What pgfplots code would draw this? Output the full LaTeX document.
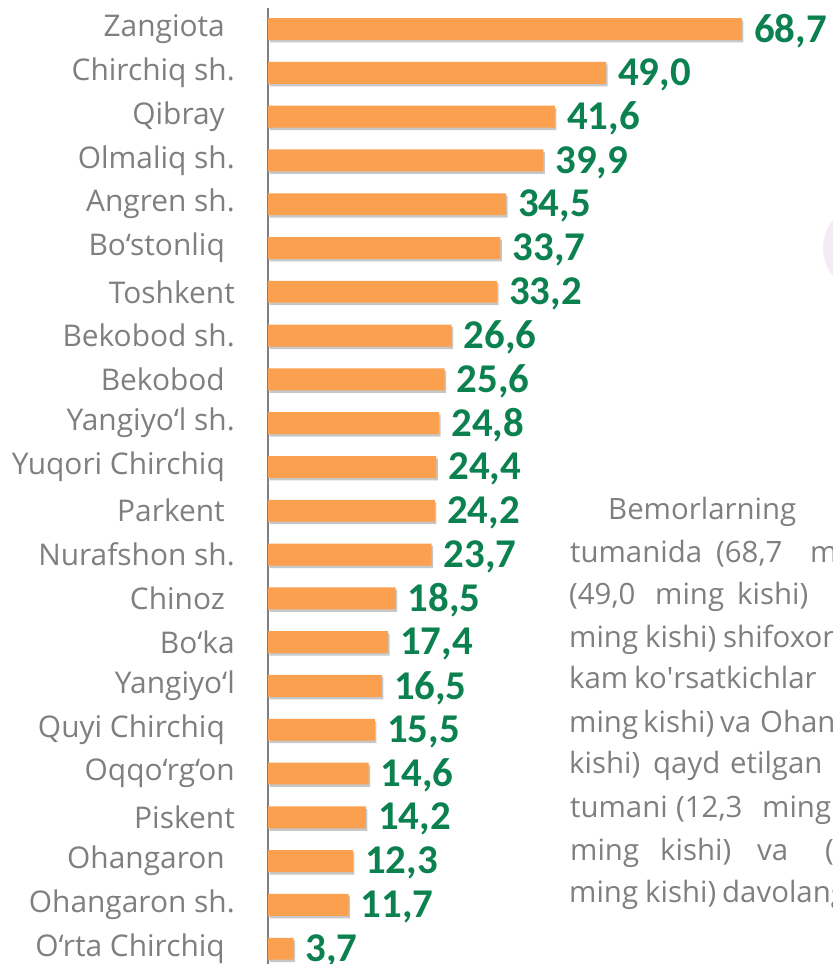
\documentclass[border=0pt]{standalone}
\usepackage{pgfplots}
\pgfplotsset{compat=1.18}
\usepackage{pgfplotstable}
\usetikzlibrary{shadows}
\usepackage{fontspec}
\setmainfont{Open Sans}
\newfontfamily\valfont{Carlito}
\definecolor{barorange}{HTML}{FBA04E}
\definecolor{valgreen}{HTML}{0B8150}
\definecolor{txtgray}{HTML}{7F7F7F}
\pgfplotstableread{
y v
0 68.7
1 49.0
2 41.6
3 39.9
4 34.5
5 33.7
6 33.2
7 26.6
8 25.6
9 24.8
10 24.4
11 24.2
12 23.7
13 18.5
14 17.4
15 16.5
16 15.5
17 14.6
18 14.2
19 12.3
20 11.7
21 3.7
}\data
\newcommand{\tsp}{\kern10bp}
\begin{document}
\begin{tikzpicture}[x=1bp,y=1bp]
\path[use as bounding box] (0,0) rectangle (833,-964);
\clip (0,0) rectangle (833,-964);
\fill[violet!8] (868,-248) circle (45);
\begin{axis}[
  at={(268bp,-964bp)}, anchor=south west,
  scale only axis, width=565bp, height=956bp,
  xbar, bar width=0.5,
  xmin=0, xmax=81.9, ymin=-0.48, ymax=21.35,
  y dir=reverse,
  axis x line=none, axis y line*=left,
  y axis line style={draw=txtgray, line width=1.3bp, -},
  ytick={0,...,21}, major tick length=0pt,
  yticklabels={Zangiota\tsp, Chirchiq sh., Qibray\tsp, Olmaliq sh., Angren sh., Bo‘stonliq\tsp, Toshkent, Bekobod sh., Bekobod\tsp, Yangiyo‘l sh., Yuqori Chirchiq\tsp, Parkent\tsp, Nurafshon sh., Chinoz\tsp, Bo‘ka, Yangiyo‘l, Quyi Chirchiq\tsp, Oqqo‘rg‘on, Piskent, Ohangaron\tsp, Ohangaron sh., O‘rta Chirchiq\tsp},
  yticklabel style={font=\fontsize{30}{30}\selectfont, text=txtgray, anchor=east, inner sep=0pt, xshift=-33bp},
  nodes near coords={\pgfmathprintnumber[fixed, fixed zerofill, precision=1, use comma, assume math mode=true]{\pgfplotspointmeta}},
  nodes near coords style={font=\valfont\bfseries\fontsize{41}{41}\selectfont, text=valgreen, anchor=west, inner sep=0pt, xshift=12bp, yshift=-2bp},
  point meta=explicit,
  clip=false,
]
\addplot[fill=barorange, draw=none, drop shadow={shadow xshift=1.5bp, shadow yshift=-2.5bp, fill=black, opacity=0.22}]
  table[x=v, y=y, meta=v]{\data};
\end{axis}
\begin{scope}[every node/.style={anchor=base west, inner sep=0pt, text=txtgray, font=\fontsize{29.5}{29.5}\selectfont}]
\node at (608,-519) {Bemorlarning};
\node at (570,-562) {tumanida}; \node at (716,-562) {(68,7}; \node at (810,-562) {ming};
\node at (569,-604) {(49,0}; \node at (655,-604) {ming}; \node at (737,-604) {kishi)};
\node at (569,-647) {ming}; \node at (645,-647) {kishi)}; \node at (723,-647) {shifoxonalarda};
\node at (569,-688) {kam}; \node at (634,-688) {ko\textquotesingle rsatkichlar};
\node at (569,-732) {ming}; \node at (643,-732) {kishi)}; \node at (720,-732) {va}; \node at (760,-732) {Ohangaron};
\node at (569,-773) {kishi)}; \node at (653,-773) {qayd}; \node at (730,-773) {etilgan};
\node at (570,-817) {tumani}; \node at (676,-817) {(12,3}; \node at (762,-817) {ming};
\node at (570,-860) {ming}; \node at (660,-860) {kishi)}; \node at (757,-860) {va}; \node at (825,-860) {(};
\node at (569,-902) {ming}; \node at (645,-902) {kishi)}; \node at (722,-902) {davolangan};
\end{scope}
\end{tikzpicture}
\end{document}
